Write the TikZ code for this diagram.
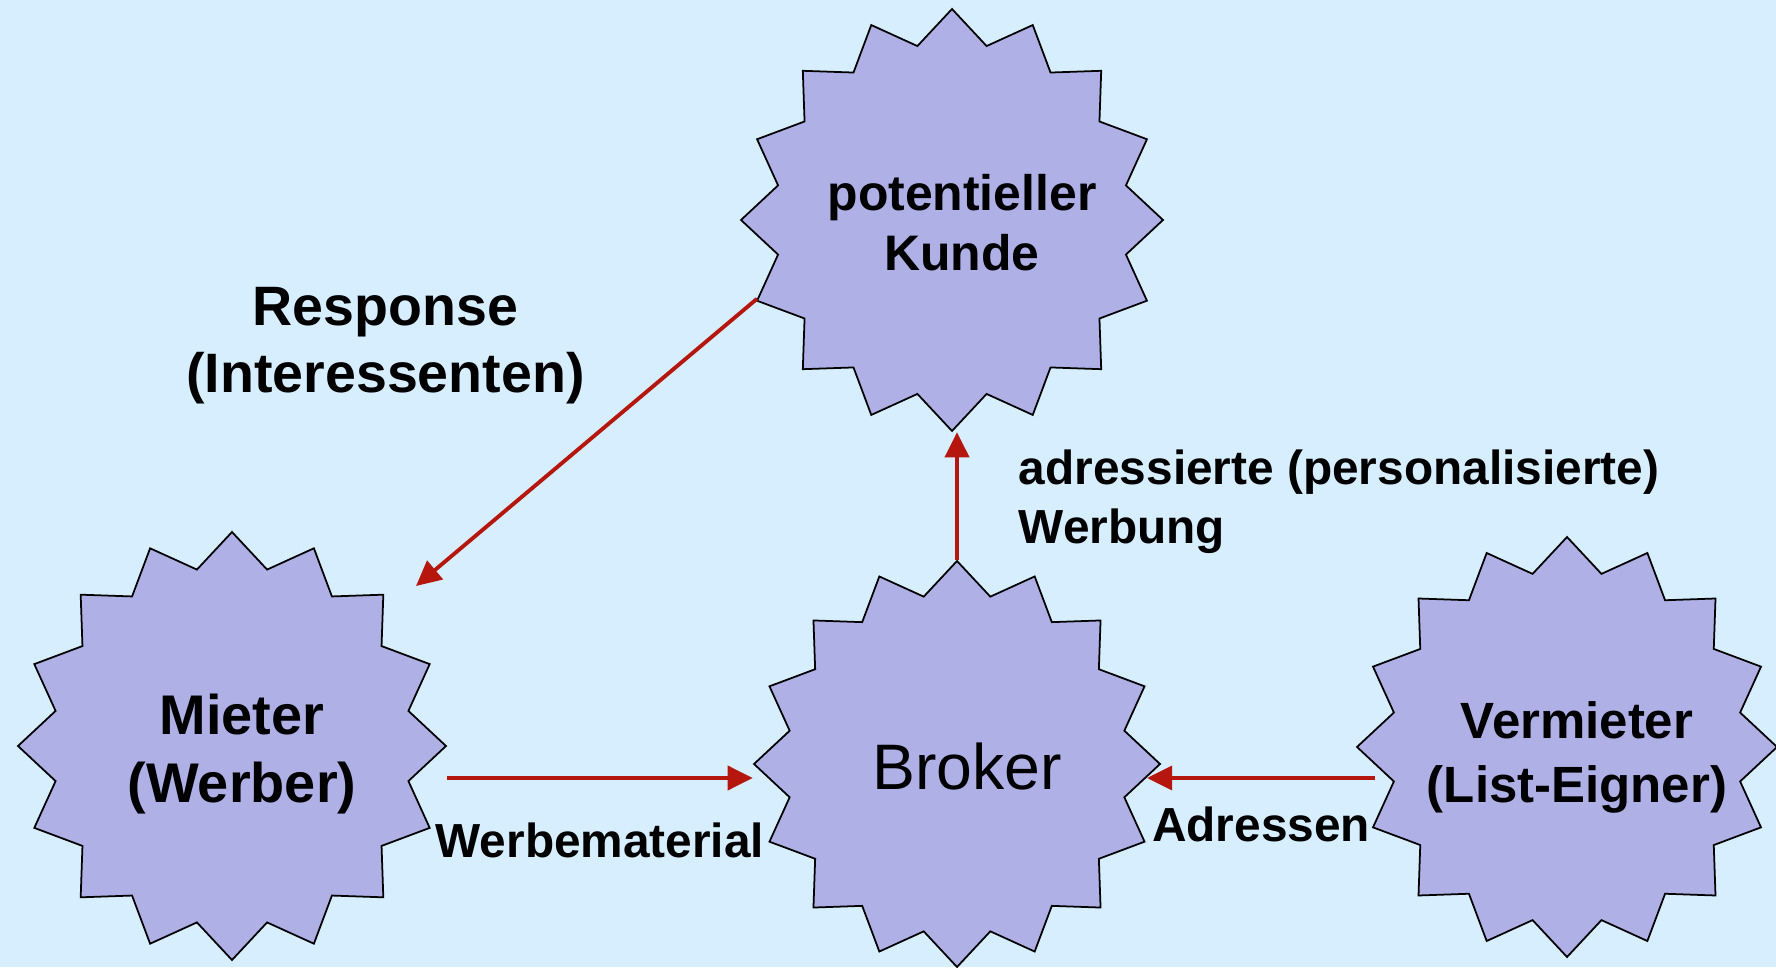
\documentclass[tikz,border=0pt]{standalone}
\usepackage{fontspec}
\setmainfont{Liberation Sans}
\usepackage{tikz}
\usetikzlibrary{shapes.geometric, arrows.meta, positioning}
\definecolor{bgblue}{HTML}{D6EEFE}
\definecolor{starfill}{HTML}{AEB0E6}
\definecolor{arrowred}{HTML}{B5170E}
\tikzset{
	party/.style={star, star points=16, star point ratio=1.19, draw=black,
		line width=0.5pt, fill=starfill, inner sep=0pt},
	partytext/.style={align=center, inner sep=0pt, xshift=0.1cm},
	myarrow/.style={-{Triangle[length=0.25cm, width=0.24cm]}, line width=1.1pt,
		draw=arrowred},
	flowlabel/.style={inner sep=0pt, font=\fontsize{13.6}{16.8}\selectfont\bfseries}
}

\begin{document}
\begin{tikzpicture}
	\fill[bgblue] (0,0) rectangle (17.76,9.67);
	\useasboundingbox (0,0) rectangle (17.76,9.67);
	
	%% ---- Parties ----
	\node[party, minimum size=4.22cm,
	label={[partytext, yshift=-0.03cm, font=\fontsize{14.2}{17.1}\selectfont\bfseries]center:{potentieller\\Kunde}}]
	(kunde) at (9.52,7.47) {};
	\node[party, minimum size=4.28cm,
	label={[partytext, yshift=-0.08cm, font=\fontsize{15.9}{19.1}\selectfont\bfseries]center:{Mieter\\(Werber)}}]
	(mieter) at (2.32,2.21) {};
	\node[party, minimum size=4.06cm,
	label={[partytext, yshift=-0.03cm, font=\fontsize{18.3}{21.7}\selectfont]center:{Broker}}]
	(broker) at (9.57,2.03) {};
	\node[party, minimum size=4.20cm,
	label={[partytext, yshift=-0.1cm, font=\fontsize{14.5}{18.2}\selectfont\bfseries]center:{Vermieter\\(List-Eigner)}}]
	(vermieter) at (15.67,2.20) {};
	
	%% ---- Free ends ----
	\coordinate (respEnd) at (4.16,3.81);
	\coordinate (werbStart) at (4.47,1.89);
	\coordinate (adrStart) at (13.75,1.89);
	
	%% ---- Flows ----
	\draw[myarrow] (kunde.202.5) --
	node[flowlabel, above left=0.36cm and 0cm, align=center,
	font=\fontsize{15.8}{19.1}\selectfont\bfseries]
	{Response\\(Interessenten)} (respEnd);
	\draw[myarrow] (broker.north) --
	node[flowlabel, right=0.6cm, yshift=-0.06cm, align=left]
	{adressierte (personalisierte)\\Werbung} (broker.north |- kunde.south);
	\draw[myarrow] (werbStart) --
	node[flowlabel, below=0.43cm] {Werbematerial} (werbStart -| broker.west);
	\draw[myarrow] (adrStart) --
	node[flowlabel, below=0.27cm] {Adressen} (adrStart -| broker.-4);
	
\end{tikzpicture}
\end{document}
